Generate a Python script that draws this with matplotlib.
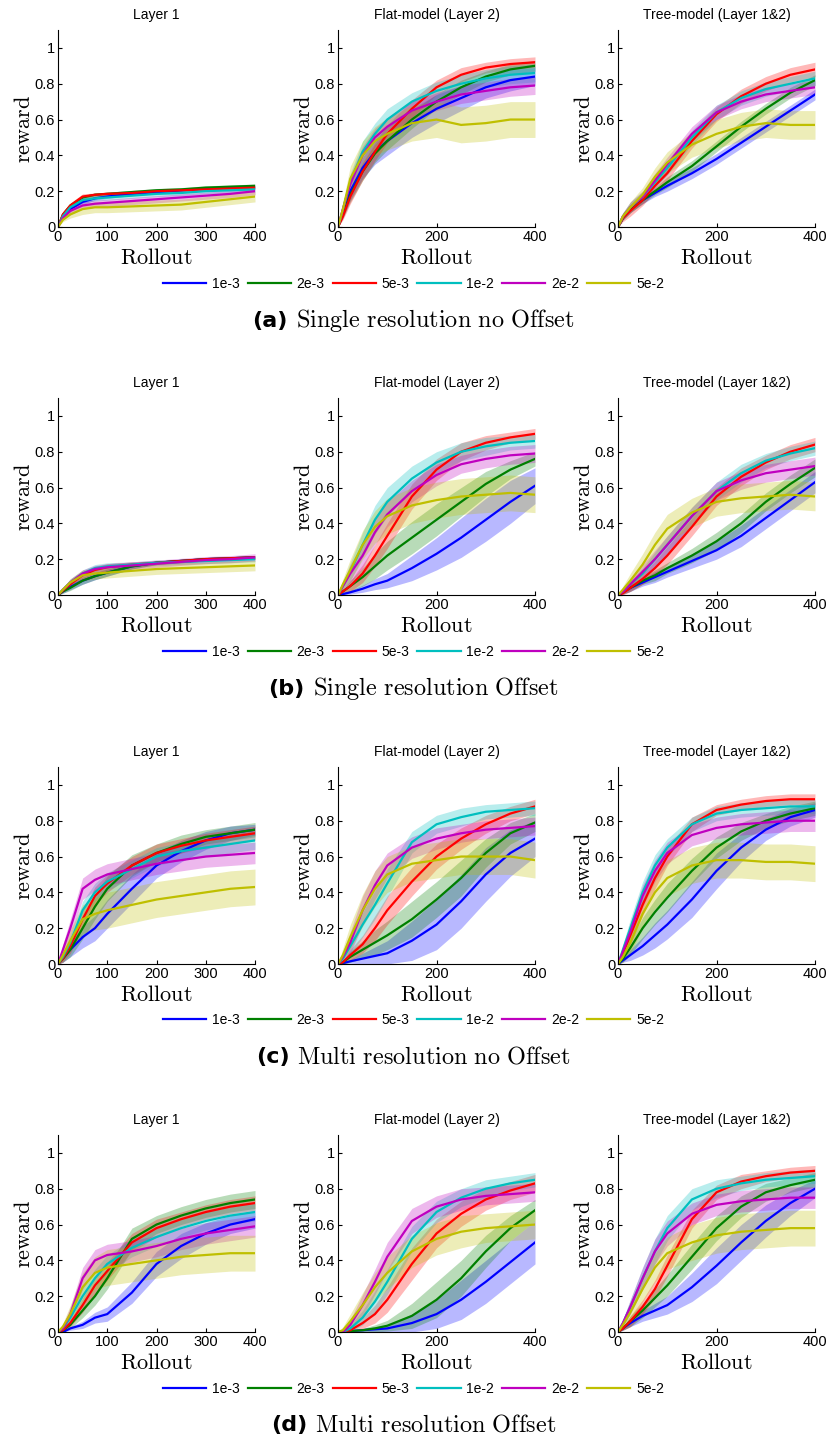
import matplotlib
matplotlib.use("Agg")
import matplotlib.pyplot as plt
import numpy as np

plt.rcParams["font.family"] = ["Liberation Sans", "DejaVu Sans"]
plt.rcParams["mathtext.fontset"] = "cm"

rollout = [0, 10, 25, 50, 75, 100, 150, 200, 250, 300, 350, 400]
rates = ["1e-3", "2e-3", "5e-3", "1e-2", "2e-2", "5e-2"]
panel_titles = ["Layer 1", "Flat-model (Layer 2)", "Tree-model (Layer 1&2)"]
captions = [("(a)", "Single resolution no Offset"),
            ("(b)", "Single resolution Offset"),
            ("(c)", "Multi resolution no Offset"),
            ("(d)", "Multi resolution Offset")]

# mean reward per learning rate (rows: 1e-3, 2e-3, 5e-3, 1e-2, 2e-2, 5e-2)
a_layer1 = [
    [0, .06, .10, .14, .16, .17, .185, .195, .205, .215, .22, .225],
    [0, .07, .12, .165, .18, .185, .195, .205, .21, .22, .225, .23],
    [0, .07, .12, .17, .18, .185, .19, .20, .205, .21, .215, .22],
    [0, .06, .11, .15, .16, .165, .175, .185, .19, .20, .205, .21],
    [0, .05, .09, .12, .13, .135, .145, .155, .165, .175, .185, .20],
    [0, .04, .07, .10, .11, .11, .115, .12, .125, .14, .155, .17]]
a_flat = [
    [0, .08, .20, .33, .42, .48, .58, .66, .72, .78, .82, .84],
    [0, .07, .18, .31, .41, .48, .60, .70, .78, .84, .88, .90],
    [0, .06, .17, .31, .42, .52, .66, .78, .85, .89, .91, .92],
    [0, .10, .25, .42, .52, .60, .70, .76, .80, .83, .85, .86],
    [0, .10, .24, .40, .50, .56, .65, .70, .74, .76, .78, .79],
    [0, .10, .27, .40, .48, .52, .58, .60, .57, .58, .60, .60]]
a_tree = [
    [0, .05, .10, .15, .19, .23, .30, .38, .47, .56, .65, .74],
    [0, .05, .10, .15, .20, .25, .34, .45, .56, .66, .75, .82],
    [0, .05, .09, .15, .23, .30, .48, .63, .73, .80, .85, .88],
    [0, .06, .11, .17, .25, .33, .50, .64, .72, .77, .80, .83],
    [0, .06, .11, .17, .26, .35, .52, .64, .70, .74, .76, .78],
    [0, .06, .11, .18, .28, .36, .46, .52, .56, .58, .57, .57]]
b_layer1 = [
    [0, .02, .045, .08, .105, .125, .16, .18, .19, .20, .205, .21],
    [0, .02, .04, .08, .105, .125, .16, .18, .19, .20, .205, .21],
    [0, .025, .06, .11, .14, .155, .17, .18, .19, .20, .205, .21],
    [0, .03, .07, .12, .15, .16, .17, .18, .185, .19, .195, .20],
    [0, .03, .07, .12, .145, .155, .165, .175, .185, .195, .20, .21],
    [0, .03, .07, .11, .12, .125, .135, .145, .15, .155, .16, .165]]
b_flat = [
    [0, .005, .015, .035, .06, .08, .15, .23, .32, .42, .52, .61],
    [0, .02, .05, .10, .16, .22, .32, .42, .52, .62, .70, .76],
    [0, .02, .05, .12, .22, .33, .55, .70, .80, .85, .88, .90],
    [0, .05, .13, .28, .42, .52, .65, .74, .80, .83, .85, .86],
    [0, .05, .12, .22, .35, .45, .58, .67, .73, .76, .78, .79],
    [0, .06, .14, .28, .38, .44, .50, .53, .55, .56, .57, .56]]
b_tree = [
    [0, .015, .04, .07, .10, .13, .19, .25, .33, .43, .53, .63],
    [0, .015, .04, .08, .11, .15, .22, .30, .40, .52, .62, .71],
    [0, .01, .04, .09, .15, .22, .38, .55, .66, .74, .80, .84],
    [0, .02, .06, .12, .20, .28, .44, .58, .68, .75, .79, .82],
    [0, .02, .06, .13, .20, .28, .44, .58, .64, .68, .70, .72],
    [0, .03, .08, .17, .28, .37, .46, .52, .54, .55, .56, .55]]
c_layer1 = [
    [0, .03, .08, .15, .20, .28, .42, .55, .63, .69, .73, .75],
    [0, .03, .08, .20, .32, .42, .55, .62, .67, .71, .73, .75],
    [0, .03, .10, .25, .38, .45, .55, .62, .66, .69, .71, .73],
    [0, .04, .12, .30, .40, .46, .53, .60, .63, .65, .67, .69],
    [0, .08, .20, .42, .47, .50, .53, .56, .58, .60, .61, .62],
    [0, .05, .13, .25, .28, .30, .33, .36, .38, .40, .42, .43]]
c_flat = [
    [0, .005, .015, .03, .045, .06, .13, .22, .35, .50, .62, .70],
    [0, .01, .04, .08, .12, .16, .25, .36, .48, .62, .73, .79],
    [0, .01, .05, .11, .20, .30, .46, .60, .70, .78, .84, .88],
    [0, .03, .10, .22, .33, .45, .68, .78, .82, .85, .86, .87],
    [0, .04, .12, .30, .44, .55, .65, .70, .73, .75, .76, .77],
    [0, .05, .15, .30, .42, .50, .56, .58, .60, .60, .60, .58]]
c_tree = [
    [0, .02, .05, .10, .16, .22, .36, .52, .65, .75, .82, .86],
    [0, .03, .09, .20, .29, .37, .52, .65, .74, .80, .84, .87],
    [0, .06, .16, .33, .48, .60, .78, .86, .89, .91, .92, .92],
    [0, .08, .20, .40, .55, .65, .78, .84, .86, .87, .88, .88],
    [0, .07, .18, .38, .52, .62, .72, .76, .78, .79, .80, .80],
    [0, .04, .12, .28, .40, .48, .55, .58, .58, .57, .57, .56]]
d_layer1 = [
    [0, 0, .02, .04, .08, .10, .22, .38, .48, .55, .60, .63],
    [0, .01, .04, .12, .20, .30, .52, .60, .65, .69, .72, .74],
    [0, .01, .05, .15, .26, .34, .50, .58, .63, .67, .70, .72],
    [0, .02, .08, .20, .30, .38, .47, .53, .58, .62, .65, .67],
    [0, .02, .10, .30, .40, .43, .45, .48, .52, .55, .57, .59],
    [0, .03, .10, .25, .33, .36, .38, .40, .42, .43, .44, .44]]
d_flat = [
    [0, 0, .005, .01, .015, .02, .05, .10, .18, .28, .39, .50],
    [0, 0, .005, .01, .02, .035, .09, .18, .30, .45, .58, .68],
    [0, 0, .01, .05, .10, .18, .38, .55, .66, .74, .79, .83],
    [0, 0, .02, .08, .17, .28, .52, .67, .75, .80, .83, .85],
    [0, 0, .04, .15, .28, .42, .62, .70, .74, .76, .77, .78],
    [0, .01, .06, .15, .25, .33, .45, .52, .56, .58, .59, .60]]
d_tree = [
    [0, .02, .05, .09, .12, .15, .25, .37, .50, .62, .72, .80],
    [0, .02, .06, .12, .19, .26, .42, .58, .70, .78, .82, .85],
    [0, .02, .06, .14, .24, .37, .63, .78, .84, .87, .89, .90],
    [0, .05, .14, .30, .45, .58, .74, .80, .83, .85, .86, .87],
    [0, .05, .14, .30, .45, .55, .66, .71, .73, .74, .75, .75],
    [0, .04, .11, .24, .36, .44, .50, .54, .56, .57, .58, .58]]

# half-width of the shaded band around each mean
a_layer1_sd = [
    [0, .01, .015, .015, .01, .01, .01, .01, .01, .01, .01, .01],
    [0, .01, .01, .01, .01, .01, .01, .01, .01, .01, .01, .01],
    [0, .01, .015, .015, .01, .01, .01, .01, .01, .01, .01, .01],
    [0, .01, .015, .015, .015, .015, .015, .015, .015, .015, .015, .015],
    [0, .01, .02, .02, .02, .02, .02, .02, .02, .02, .02, .02],
    [0, .01, .02, .03, .03, .03, .03, .03, .03, .03, .03, .03]]
a_flat_sd = [
    [0, .03, .05, .06, .07, .08, .08, .08, .07, .06, .06, .05],
    [0, .02, .04, .05, .05, .05, .05, .04, .04, .03, .03, .03],
    [0, .02, .04, .05, .05, .05, .05, .04, .04, .03, .03, .03],
    [0, .03, .05, .06, .06, .06, .05, .05, .05, .05, .05, .05],
    [0, .03, .05, .05, .05, .05, .05, .05, .05, .05, .05, .05],
    [0, .04, .07, .08, .08, .09, .10, .10, .10, .10, .10, .10]]
a_tree_sd = [
    [0, .01, .02, .02, .02, .03, .03, .03, .03, .03, .03, .03],
    [0, .01, .02, .02, .02, .03, .03, .03, .03, .03, .03, .03],
    [0, .02, .03, .03, .03, .04, .04, .04, .04, .04, .04, .04],
    [0, .02, .03, .03, .03, .04, .04, .04, .04, .04, .04, .04],
    [0, .02, .03, .03, .04, .04, .04, .04, .04, .04, .04, .04],
    [0, .02, .03, .04, .05, .06, .07, .08, .08, .08, .08, .08]]
b_layer1_sd = [
    [0, .01, .015, .02, .02, .02, .015, .01, .01, .01, .01, .01],
    [0, .01, .015, .02, .02, .02, .015, .01, .01, .01, .01, .01],
    [0, .01, .015, .02, .02, .02, .015, .01, .01, .01, .01, .01],
    [0, .01, .02, .02, .02, .02, .015, .015, .015, .015, .015, .015],
    [0, .01, .02, .02, .02, .02, .02, .02, .02, .02, .02, .02],
    [0, .01, .02, .03, .03, .03, .03, .03, .03, .03, .03, .03]]
b_flat_sd = [
    [0, .005, .01, .02, .03, .04, .07, .09, .11, .12, .12, .10],
    [0, .01, .03, .05, .07, .08, .09, .09, .08, .07, .05, .04],
    [0, .01, .03, .05, .06, .07, .07, .06, .05, .04, .03, .03],
    [0, .02, .05, .07, .08, .08, .07, .06, .05, .05, .04, .04],
    [0, .02, .05, .07, .07, .07, .06, .06, .05, .05, .05, .05],
    [0, .03, .06, .08, .09, .10, .10, .10, .10, .10, .10, .10]]
b_tree_sd = [
    [0, .01, .02, .02, .03, .03, .04, .05, .06, .06, .06, .06],
    [0, .01, .02, .02, .03, .03, .04, .05, .05, .05, .05, .05],
    [0, .01, .02, .03, .04, .05, .05, .05, .05, .04, .04, .04],
    [0, .01, .02, .03, .04, .05, .05, .05, .05, .04, .04, .04],
    [0, .01, .03, .04, .05, .05, .05, .05, .05, .05, .05, .05],
    [0, .02, .04, .06, .07, .08, .08, .08, .08, .08, .08, .08]]
c_layer1_sd = [
    [0, .02, .04, .06, .07, .08, .08, .07, .06, .05, .04, .03],
    [0, .02, .04, .06, .07, .07, .06, .05, .05, .04, .04, .04],
    [0, .02, .04, .05, .05, .05, .05, .05, .04, .04, .04, .04],
    [0, .02, .04, .05, .05, .05, .05, .05, .05, .05, .05, .05],
    [0, .03, .05, .06, .06, .06, .06, .06, .06, .06, .06, .06],
    [0, .03, .06, .08, .09, .10, .10, .10, .10, .10, .10, .10]]
c_flat_sd = [
    [0, .005, .01, .03, .05, .07, .11, .14, .15, .15, .13, .10],
    [0, .01, .03, .05, .07, .08, .10, .10, .10, .08, .06, .05],
    [0, .01, .03, .05, .07, .08, .08, .07, .06, .05, .04, .04],
    [0, .02, .05, .07, .08, .08, .06, .05, .05, .04, .04, .04],
    [0, .03, .06, .08, .08, .07, .06, .06, .05, .05, .05, .05],
    [0, .04, .07, .09, .10, .10, .10, .10, .10, .10, .10, .10]]
c_tree_sd = [
    [0, .01, .03, .05, .07, .08, .10, .10, .08, .06, .05, .04],
    [0, .02, .04, .06, .07, .08, .07, .06, .05, .04, .04, .04],
    [0, .03, .05, .06, .06, .05, .04, .03, .03, .03, .03, .03],
    [0, .03, .05, .06, .06, .05, .04, .04, .04, .04, .04, .04],
    [0, .03, .05, .06, .06, .06, .06, .06, .06, .06, .06, .06],
    [0, .03, .06, .08, .09, .10, .10, .10, .10, .10, .10, .10]]
d_layer1_sd = [
    [0, .005, .01, .02, .03, .04, .06, .07, .07, .06, .05, .05],
    [0, .01, .02, .04, .05, .06, .06, .05, .05, .05, .05, .05],
    [0, .01, .02, .04, .05, .05, .05, .05, .04, .04, .04, .04],
    [0, .01, .03, .05, .05, .05, .05, .05, .05, .05, .05, .05],
    [0, .02, .04, .06, .06, .06, .06, .06, .06, .06, .06, .06],
    [0, .02, .05, .08, .09, .10, .10, .10, .10, .10, .10, .10]]
d_flat_sd = [
    [0, .003, .005, .01, .015, .02, .05, .08, .11, .12, .12, .12],
    [0, .003, .005, .01, .02, .03, .07, .10, .10, .09, .07, .06],
    [0, .005, .01, .03, .05, .07, .09, .08, .07, .06, .05, .05],
    [0, .005, .02, .04, .06, .07, .07, .06, .05, .05, .04, .04],
    [0, .01, .03, .06, .07, .08, .07, .06, .06, .05, .05, .05],
    [0, .02, .04, .07, .08, .09, .09, .09, .09, .08, .08, .08]]
d_tree_sd = [
    [0, .01, .02, .03, .04, .05, .08, .10, .10, .09, .07, .05],
    [0, .01, .03, .04, .05, .06, .07, .07, .06, .05, .04, .04],
    [0, .01, .03, .04, .05, .06, .05, .04, .04, .03, .03, .03],
    [0, .02, .04, .06, .07, .07, .06, .05, .04, .04, .04, .04],
    [0, .02, .04, .06, .07, .07, .06, .06, .06, .06, .06, .06],
    [0, .02, .05, .07, .08, .09, .10, .10, .10, .10, .10, .10]]

means = [[a_layer1, a_flat, a_tree], [b_layer1, b_flat, b_tree],
         [c_layer1, c_flat, c_tree], [d_layer1, d_flat, d_tree]]
spreads = [[a_layer1_sd, a_flat_sd, a_tree_sd], [b_layer1_sd, b_flat_sd, b_tree_sd],
           [c_layer1_sd, c_flat_sd, c_tree_sd], [d_layer1_sd, d_flat_sd, d_tree_sd]]

colors = [(0, 0, 1), (0, 0.5, 0), (1, 0, 0), (0, 0.75, 0.75), (0.75, 0, 0.75), (0.75, 0.75, 0)]

W, H = 827, 1443
fig = plt.figure(figsize=(W / 100, H / 100), dpi=100)

ax_lefts = [58, 338, 618]
ax_tops = [30, 398, 767, 1135]
ax_w, ax_h = 197, 197
legend_y = [284, 652, 1020, 1389]
caption_y = [321, 689, 1057, 1425]

x = np.array(rollout)
for r in range(4):
    for c in range(3):
        ax = fig.add_axes([ax_lefts[c] / W, 1 - (ax_tops[r] + ax_h) / H, ax_w / W, ax_h / H])
        for k in range(6):
            m = np.array(means[r][c][k])
            s = np.array(spreads[r][c][k])
            ax.fill_between(x, np.clip(m - s, 0, None), m + s, color=colors[k],
                            alpha=0.28, linewidth=0)
        for k in range(6):
            ax.plot(x, means[r][c][k], color=colors[k], lw=1.6, label=rates[k])
        ax.set_xlim(0, 400)
        ax.set_ylim(0, 1.1)
        ax.set_xticks([0, 100, 200, 300, 400] if c == 0 else [0, 200, 400])
        ax.set_yticks([0, 0.2, 0.4, 0.6, 0.8, 1])
        ax.set_yticklabels(["0", "0.2", "0.4", "0.6", "0.8", "1"])
        ax.tick_params(direction="in", length=3, labelsize=10.5, pad=2)
        for side in ["top", "right"]:
            ax.spines[side].set_visible(False)
        ax.set_title(panel_titles[c], fontsize=10, pad=8)
        ax.set_xlabel(r"$\mathrm{Rollout}$", fontsize=16, labelpad=3)
        ax.set_ylabel(r"$\mathrm{reward}$", fontsize=16, labelpad=0)
        if c == 1:
            handles, labels = ax.get_legend_handles_labels()
    fig.legend(handles, labels, loc="center", ncol=6, frameon=False,
               bbox_to_anchor=(0.5, 1 - legend_y[r] / H), fontsize=10,
               handlelength=3.1, handletextpad=0.4, columnspacing=0.6)

# captions: bold tag + serif text, centred as one line
renderer = fig.canvas.get_renderer()
for r in range(4):
    tag, text = captions[r]
    y = 1 - caption_y[r] / H
    t1 = fig.text(0, y, tag, fontsize=16, fontweight="bold", family="DejaVu Sans",
                  ha="left", va="center")
    t2 = fig.text(0, y, r"$\mathrm{" + text.replace(" ", r"\ ") + "}$", fontsize=17.5,
                  ha="left", va="center")
    w1 = t1.get_window_extent(renderer).width
    w2 = t2.get_window_extent(renderer).width
    gap = 8
    start = (W - (w1 + gap + w2)) / 2
    t1.set_x(start / W)
    t2.set_x((start + w1 + gap) / W)

fig.savefig("out.png", dpi=100)
